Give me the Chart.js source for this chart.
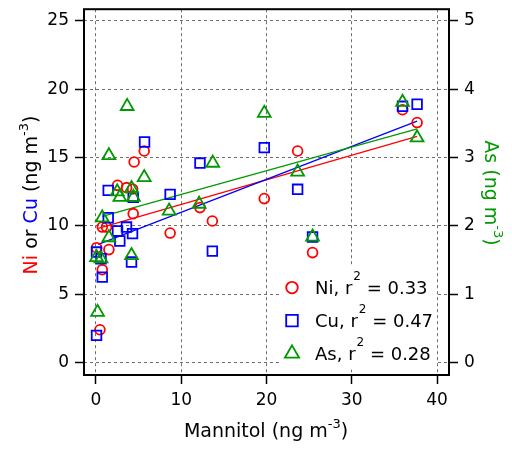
<!DOCTYPE html>
<html><head><meta charset="utf-8">
<script src="https://cdn.jsdelivr.net/npm/chart.js@4/dist/chart.umd.min.js"></script>
<style>html,body{margin:0;padding:0;background:#fff}#wrap{width:512px;height:450px;position:relative}</style>
</head><body><div id="wrap"><canvas id="c"></canvas></div>
<script>
// ---- data ----
const niX = [0.07, 0.47, 0.74, 0.74, 1.24, 1.52, 2.53, 3.6, 4.3, 4.48, 4.37, 5.66, 8.7, 12.2, 13.65, 19.74, 23.65, 25.4, 35.95, 37.66];
const niY = [8.41, 2.41, 6.8, 9.92, 9.92, 8.27, 12.97, 12.8, 12.7, 14.68, 10.9, 15.48, 9.48, 11.34, 10.36, 12.0, 15.48, 8.05, 18.5, 17.56];
const cuX = [0.07, 0.07, 0.6, 0.74, 1.44, 1.44, 2.53, 2.8, 3.58, 4.17, 4.29, 4.37, 5.7, 8.7, 12.2, 13.65, 19.74, 23.65, 25.4, 35.95, 37.66];
const cuY = [2.0, 8.09, 7.6, 6.26, 10.6, 12.6, 9.63, 8.9, 9.92, 7.36, 9.44, 12.1, 16.14, 12.31, 14.6, 8.16, 15.73, 12.68, 9.19, 18.75, 18.9];
const asX = [0.19, 0.07, 0.6, 0.74, 1.52, 1.52, 2.5, 2.8, 3.66, 4.17, 4.4, 4.17, 5.66, 8.58, 12.1, 13.7, 19.74, 23.65, 25.4, 35.95, 37.66];
const asY = [0.74, 1.54, 1.52, 2.12, 1.83, 3.03, 2.5, 2.42, 3.75, 2.55, 2.42, 1.57, 2.71, 2.22, 2.32, 2.92, 3.65, 2.79, 1.84, 3.81, 3.29];
const niFitX = [0.27, 37.66], niFitY = [9.82, 16.55];
const cuFitX = [0.27, 37.66], cuFitY = [8.65, 17.67];
const asFitX = [0.74, 37.66], asFitY = [2.14, 3.42];
const seriesNames = ['Ni', 'Cu', 'As'];
const r2Values = ['0.33', '0.47', '0.28'];
const xTicks = [0, 10, 20, 30, 40];
const yTicks = [0, 5, 10, 15, 20, 25];
const asTicks = [0, 1, 2, 3, 4, 5];

// ---- styling ----
const RED = '#ff0000', BLUE = '#0000ff', GREEN = '#009900';
const FAM = '"DejaVu Sans", Verdana, sans-serif';
const pts = (xs, ys) => xs.map((x, i) => ({x: x, y: ys[i]}));

function drawRich(ctx, parts, x, y, rot, size, supSize, rise) {
  ctx.save();
  ctx.translate(x, y);
  ctx.rotate(rot);
  ctx.textBaseline = 'alphabetic';
  ctx.textAlign = 'left';
  let total = 0;
  const w = parts.map(p => {
    ctx.font = (p.sup ? supSize : size) + 'px ' + FAM;
    const m = ctx.measureText(p.t).width; total += m; return m;
  });
  let cx = -total / 2;
  parts.forEach((p, i) => {
    ctx.font = (p.sup ? supSize : size) + 'px ' + FAM;
    ctx.fillStyle = p.c || '#000';
    ctx.fillText(p.t, cx, p.sup ? -rise : 0);
    cx += w[i];
  });
  ctx.restore();
}

function marker(ctx, type, x, y, r, color) {
  ctx.save();
  ctx.strokeStyle = color; ctx.lineWidth = 1.8;
  ctx.beginPath();
  if (type === 'circle') ctx.arc(x, y, r, 0, Math.PI * 2);
  else if (type === 'rect') { const s = r * Math.SQRT1_2; ctx.rect(x - s, y - s, 2 * s, 2 * s); }
  else {
    ctx.moveTo(x, y - r);
    ctx.lineTo(x + r * Math.sin(2 * Math.PI / 3), y + r * 0.5);
    ctx.lineTo(x - r * Math.sin(2 * Math.PI / 3), y + r * 0.5);
    ctx.closePath();
  }
  ctx.stroke();
  ctx.restore();
}

const decor = {
  id: 'decor',
  afterDraw(chart) {
    const ctx = chart.ctx, a = chart.chartArea;
    // frame
    ctx.save();
    ctx.strokeStyle = '#000'; ctx.lineWidth = 2;
    ctx.strokeRect(a.left, a.top, a.right - a.left, a.bottom - a.top);
    ctx.restore();
    // axis titles
    drawRich(ctx, [{t: 'Mannitol (ng m'}, {t: '-3', sup: true}, {t: ')'}], 266, 437, 0, 19, 13, 9);
    drawRich(ctx, [{t: 'Ni', c: RED}, {t: ' or '}, {t: 'Cu', c: BLUE}, {t: ' (ng m'}, {t: '-3', sup: true}, {t: ')'}], 37, 195, -Math.PI / 2, 19, 13, 9);
    drawRich(ctx, [{t: 'As (ng m', c: GREEN}, {t: '-3', sup: true, c: GREEN}, {t: ')', c: GREEN}], 485, 193, Math.PI / 2, 19, 13, 9);
    // legend
    const x0 = chart.scales.x.getPixelForValue(21.7);
    const yb = chart.scales.y.getPixelForValue(7.1);
    ctx.save();
    ctx.fillStyle = '#fff';
    ctx.fillRect(x0, yb, 154, 104);
    ctx.restore();
    const types = ['circle', 'rect', 'triangle'];
    const cols = [RED, BLUE, GREEN];
    const rs = [5.8, 8.2, 8.2];
    seriesNames.forEach((n, i) => {
      const cy = yb + 22 + i * 33;
      marker(ctx, types[i], x0 + 11, cy, rs[i], cols[i]);
      ctx.save();
      ctx.fillStyle = '#000';
      ctx.textBaseline = 'alphabetic'; ctx.textAlign = 'left';
      let tx = x0 + 34;
      ctx.font = '18px ' + FAM;
      const s1 = n + ', r';
      ctx.fillText(s1, tx, cy + 6);
      tx += ctx.measureText(s1).width + 1;
      ctx.font = '12px ' + FAM;
      ctx.fillText('2', tx, cy - 8);
      tx += ctx.measureText('2').width;
      ctx.font = '18px ' + FAM;
      ctx.fillText(' = ' + r2Values[i], tx, cy + 6);
      ctx.restore();
    });
  }
};

function zeroPad(s) { s.paddingTop = 0; s.paddingBottom = 0; s.paddingLeft = 0; s.paddingRight = 0; }
const tickFont = {family: FAM, size: 17};
const gridCommon = {color: '#6e6e6e', lineWidth: 1, tickColor: '#000', tickWidth: 1.5, tickLength: 9, tickBorderDash: []};

new Chart(document.getElementById('c'), {
  type: 'scatter',
  data: {
    datasets: [
      {label: 'As', data: pts(asX, asY), yAxisID: 'y2', pointStyle: 'triangle', pointRadius: 7.4, pointHoverRadius: 7.4,
       borderColor: GREEN, backgroundColor: 'rgba(0,0,0,0)', pointBorderWidth: 1.8, order: 1},
      {label: 'Cu', data: pts(cuX, cuY), yAxisID: 'y', pointStyle: 'rect', pointRadius: 6.8, pointHoverRadius: 6.8,
       borderColor: BLUE, backgroundColor: 'rgba(0,0,0,0)', pointBorderWidth: 1.8, order: 2},
      {label: 'Ni', data: pts(niX, niY), yAxisID: 'y', pointStyle: 'circle', pointRadius: 4.9, pointHoverRadius: 4.9,
       borderColor: RED, backgroundColor: 'rgba(0,0,0,0)', pointBorderWidth: 1.8, order: 3},
      {label: 'As fit', data: pts(asFitX, asFitY), yAxisID: 'y2', showLine: true, pointRadius: 0, borderColor: GREEN, borderWidth: 1.3, order: 4},
      {label: 'Cu fit', data: pts(cuFitX, cuFitY), yAxisID: 'y', showLine: true, pointRadius: 0, borderColor: BLUE, borderWidth: 1.3, order: 5},
      {label: 'Ni fit', data: pts(niFitX, niFitY), yAxisID: 'y', showLine: true, pointRadius: 0, borderColor: RED, borderWidth: 1.3, order: 6}
    ]
  },
  options: {
    responsive: true, maintainAspectRatio: false, animation: false,
    layout: {padding: {top: 9, left: 0, right: 0, bottom: 0}},
    plugins: {legend: {display: false}, tooltip: {enabled: false}},
    events: [],
    scales: {
      x: {type: 'linear', position: 'bottom', min: -1.4, max: 41.4,
          afterBuildTicks: s => { s.ticks = xTicks.map(v => ({value: v})); },
          afterFit: s => { s.height = 75; zeroPad(s); },
          ticks: {font: tickFont, color: '#000', padding: 6, maxRotation: 0},
          grid: Object.assign({}, gridCommon),
          border: {display: false, dash: [3, 3]}},
      y: {type: 'linear', position: 'left', min: -0.9, max: 25.85,
          afterBuildTicks: s => { s.ticks = yTicks.map(v => ({value: v})); },
          afterFit: s => { s.width = 84; zeroPad(s); },
          ticks: {font: tickFont, color: '#000', padding: 6},
          grid: Object.assign({}, gridCommon),
          border: {display: false, dash: [3, 3]}},
      y2: {type: 'linear', position: 'right', min: -0.18, max: 5.17,
          afterBuildTicks: s => { s.ticks = asTicks.map(v => ({value: v})); },
          afterFit: s => { s.width = 63; zeroPad(s); },
          ticks: {font: tickFont, color: '#000', padding: 6},
          grid: Object.assign({}, gridCommon, {drawOnChartArea: false}),
          border: {display: false}}
    }
  },
  plugins: [decor]
});
</script>
</body></html>
